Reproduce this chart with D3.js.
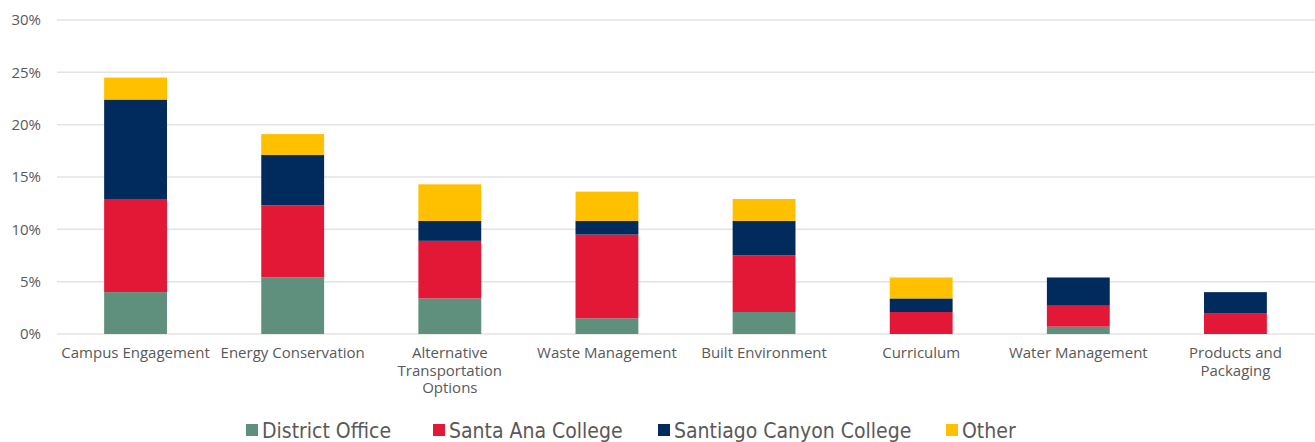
<!DOCTYPE html>
<html>
<head>
<meta charset="utf-8">
<script src="https://cdn.jsdelivr.net/npm/d3@7"></script>
<style>
  body { margin: 0; background: #fff; }
  text { font-family: "Open Sans", "DejaVu Sans", sans-serif; fill: #595959; }
</style>
</head>
<body>
<div id="chart"></div>
<script>
// categories and series (percent of total)
const categories = ["Campus Engagement", "Energy Conservation", "Alternative Transportation Options",
    "Waste Management", "Built Environment", "Curriculum", "Water Management", "Products and Packaging"];
const seriesNames = ["District Office", "Santa Ana College", "Santiago Canyon College", "Other"];
const districtOffice = [4.0, 5.4, 3.4, 1.5, 2.1, 0, 0.7, 0];
const santaAna = [8.9, 6.9, 5.5, 8.0, 5.4, 2.1, 2.0, 2.0];
const santiagoCanyon = [9.5, 4.8, 1.9, 1.3, 3.3, 1.3, 2.7, 2.0];
const other = [2.1, 2.0, 3.5, 2.8, 2.1, 2.0, 0, 0];
const yTicks = [0, 5, 10, 15, 20, 25, 30];
const colors = ["#5f8f7d", "#e31837", "#002b5c", "#ffc000"];

const width = 1315, height = 442;
const margin = { top: 20, right: 1, bottom: 108, left: 57 };

const svg = d3.select('#chart')
    .append('svg')
    .attr('width', width)
    .attr('height', height);

const data = categories.map((c, i) => ({
    cat: c,
    "District Office": districtOffice[i],
    "Santa Ana College": santaAna[i],
    "Santiago Canyon College": santiagoCanyon[i],
    "Other": other[i]
}));

const stacked = d3.stack().keys(seriesNames)(data);

const x = d3.scaleBand()
    .domain(categories)
    .range([margin.left, width - margin.right])
    .paddingInner(0.6)
    .paddingOuter(0.3);

const y = d3.scaleLinear()
    .domain([0, 30])
    .range([334, margin.top]);

const color = d3.scaleOrdinal().domain(seriesNames).range(colors);

// gridlines
svg.append('g')
    .selectAll('line')
    .data(yTicks)
    .join('line')
    .attr('x1', margin.left)
    .attr('x2', width)
    .attr('y1', d => y(d))
    .attr('y2', d => y(d))
    .attr('stroke', '#e3e3e3')
    .attr('stroke-width', 1.5);

// y labels
svg.append('g')
    .selectAll('text')
    .data(yTicks)
    .join('text')
    .attr('x', 41)
    .attr('y', d => y(d))
    .attr('dy', '0.35em')
    .attr('text-anchor', 'end')
    .style('font-size', '15px')
    .text(d => d + '%');

// bars
svg.append('g')
    .selectAll('g')
    .data(stacked)
    .join('g')
    .attr('fill', d => color(d.key))
    .selectAll('rect')
    .data(d => d)
    .join('rect')
    .attr('x', d => x(d.data.cat))
    .attr('y', d => y(d[1]))
    .attr('width', x.bandwidth())
    .attr('height', d => y(d[0]) - y(d[1]));

// x labels, wrapped to the band
function wrap(label, maxW) {
    const words = label.split(' ');
    const lines = [];
    let cur = '';
    const probe = svg.append('text').style('font-size', '15px');
    words.forEach(w => {
        const test = cur ? cur + ' ' + w : w;
        probe.text(test);
        if (probe.node().getComputedTextLength() > maxW && cur) {
            lines.push(cur);
            cur = w;
        } else {
            cur = test;
        }
    });
    lines.push(cur);
    probe.remove();
    return lines;
}

const xl = svg.append('g');
categories.forEach(c => {
    const t = xl.append('text')
        .attr('x', x(c) + x.bandwidth() / 2)
        .attr('y', 358)
        .attr('text-anchor', 'middle')
        .style('font-size', '15px');
    wrap(c, 152).forEach((line, i) => {
        t.append('tspan')
            .attr('x', x(c) + x.bandwidth() / 2)
            .attr('dy', i === 0 ? 0 : 17.5)
            .text(line);
    });
});

// legend
const legendX = [246, 433, 658, 946];
const legend = svg.append('g')
    .selectAll('g')
    .data(seriesNames)
    .join('g')
    .attr('transform', (d, i) => 'translate(' + legendX[i] + ',0)');
legend.append('rect')
    .attr('x', 0)
    .attr('y', 424)
    .attr('width', 12)
    .attr('height', 12)
    .attr('fill', d => color(d));
legend.append('text')
    .attr('x', 16)
    .attr('y', 438)
    .style('font-size', '21px')
    .style('font-family', '"Liberation Sans Narrow", "DejaVu Sans Condensed", sans-serif')
    .text(d => d);
</script>
</body>
</html>
